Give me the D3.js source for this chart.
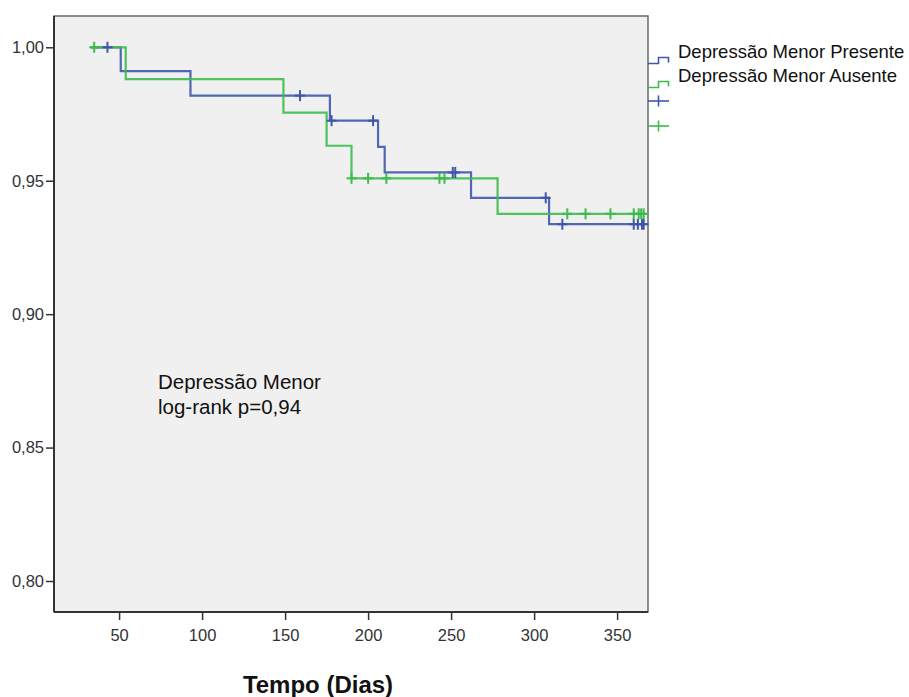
<!DOCTYPE html>
<html>
<head>
<meta charset="utf-8">
<script src="https://cdn.jsdelivr.net/npm/d3@7"></script>
<style>
html,body{margin:0;padding:0;background:#fff;}
svg{display:block;}
</style>
</head>
<body>
<svg id="chart" width="909" height="697"></svg>
<script>
// ---- Data ----
const seriesNames = ["Depressão Menor Presente", "Depressão Menor Ausente"];
const presenteTimes = [33, 51, 93, 177, 206, 210, 262, 309, 366];
const presenteSurv  = [1.0, 0.9911, 0.9819, 0.9725, 0.9627, 0.9531, 0.9436, 0.9337, 0.9337];
const presenteCensor = [43, 159, 178, 203, 251, 252.5, 307, 317, 360, 362.5, 365, 366];
const ausenteTimes = [33, 54, 149, 175, 190, 278, 366];
const ausenteSurv  = [1.0, 0.9881, 0.9755, 0.9631, 0.9509, 0.9376, 0.9376];
const ausenteCensor = [35, 190, 200, 211, 243, 246, 320, 331, 346, 360, 363, 364.5, 366];
const xTicks = [50, 100, 150, 200, 250, 300, 350];
const yTicks = [0.80, 0.85, 0.90, 0.95, 1.00];
const annotationLines = ["Depressão Menor", "log-rank p=0,94"];
const xTitle = "Tempo (Dias)";

const colors = ["#3f56ae", "#3dbb4c"];
const FONT = "Liberation Sans, Arial, sans-serif";

const svg = d3.select("#chart");
const pLeft = 54, pRight = 647, pTop = 16, pBottom = 612;

const x = d3.scaleLinear().domain([10.8, 368]).range([pLeft, pRight]);
const y = d3.scaleLinear().domain([0.80, 1.00]).range([581, 47.3]);

// plot background
svg.append("rect").attr("x", pLeft).attr("y", pTop)
  .attr("width", pRight - pLeft + 1).attr("height", pBottom - pTop)
  .attr("fill", "#f0f0f0").attr("stroke", "#6a6a6a").attr("stroke-width", 1.5);

// axes
const fmt = d => d3.format(".2f")(d).replace(".", ",");
const yAxis = d3.axisLeft(y).tickValues(yTicks).tickFormat(fmt).tickSize(8).tickPadding(2);
const gy = svg.append("g").attr("transform", `translate(${pLeft},0)`).call(yAxis);
gy.select(".domain").remove();
gy.append("line").attr("x1", 0).attr("x2", 0).attr("y1", pTop).attr("y2", pBottom)
  .attr("stroke", "#333").attr("stroke-width", 2);

const xAxis = d3.axisBottom(x).tickValues(xTicks).tickSize(8).tickPadding(9);
const gx = svg.append("g").attr("transform", `translate(0,${pBottom})`).call(xAxis);
gx.select(".domain").remove();
gx.append("line").attr("x1", pLeft).attr("x2", pRight + 1).attr("y1", 0).attr("y2", 0)
  .attr("stroke", "#333").attr("stroke-width", 2);

[gx, gy].forEach(g => {
  g.selectAll(".tick line").attr("stroke", "#333").attr("stroke-width", 1.5);
  g.selectAll(".tick text").attr("fill", "#333")
    .style("font-family", FONT).style("font-size", "16.5px");
});

// curves
const line = d3.line().x(d => x(d[0])).y(d => y(d[1])).curve(d3.curveStepAfter);
function survAt(times, surv, t) {
  let s = surv[0];
  for (let i = 0; i < times.length; i++) if (times[i] <= t) s = surv[i];
  return s;
}
const groups = [
  {times: presenteTimes, surv: presenteSurv, censor: presenteCensor, color: colors[0]},
  {times: ausenteTimes, surv: ausenteSurv, censor: ausenteCensor, color: colors[1]}
];
groups.forEach(g => {
  const pts = g.times.map((t, i) => [t, g.surv[i]]);
  svg.append("path").datum(pts).attr("d", line)
    .attr("fill", "none").attr("stroke", g.color).attr("stroke-width", 2.2).attr("stroke-opacity", 0.9);
});
groups.forEach(g => {
  svg.append("g").selectAll("line").data(g.censor).join("line")
    .attr("x1", d => x(d)).attr("x2", d => x(d))
    .attr("y1", d => y(survAt(g.times, g.surv, d)) - 5.5)
    .attr("y2", d => y(survAt(g.times, g.surv, d)) + 5.5)
    .attr("stroke", g.color).attr("stroke-width", 2);
  svg.append("g").selectAll("line").data(g.censor).join("line")
    .attr("x1", d => x(d) - 5).attr("x2", d => x(d) + 5)
    .attr("y1", d => y(survAt(g.times, g.surv, d)))
    .attr("y2", d => y(survAt(g.times, g.surv, d)))
    .attr("stroke", g.color).attr("stroke-width", 2);
});

// legend
const lg = svg.append("g");
seriesNames.forEach((name, i) => {
  const yb = 63.5 + i * 24;
  lg.append("path")
    .attr("d", `M648,${yb} H658.5 V${yb - 6} H668.5 V${yb - 1}`)
    .attr("fill", "none").attr("stroke", colors[i]).attr("stroke-width", 1.6);
  lg.append("text").attr("x", 678).attr("y", yb - 10.5)
    .attr("dominant-baseline", "middle")
    .style("font-family", FONT).style("font-size", "18.5px")
    .attr("fill", "#111").text(name);
});
colors.forEach((c, i) => {
  const yc = 101 + i * 25;
  lg.append("line").attr("x1", 648).attr("x2", 669).attr("y1", yc).attr("y2", yc)
    .attr("stroke", c).attr("stroke-width", 1.6);
  lg.append("line").attr("x1", 658.5).attr("x2", 658.5).attr("y1", yc - 5.5).attr("y2", yc + 5.5)
    .attr("stroke", c).attr("stroke-width", 1.6);
});

// annotation
annotationLines.forEach((t, i) => {
  svg.append("text").attr("x", 158).attr("y", 389 + i * 25)
    .style("font-family", FONT).style("font-size", "20.5px")
    .attr("fill", "#111").text(t);
});

// x title
svg.append("text").attr("x", 318).attr("y", 693).attr("text-anchor", "middle")
  .style("font-family", FONT).style("font-size", "24px")
  .style("font-weight", "bold").attr("fill", "#111").text(xTitle);
</script>
</body>
</html>
